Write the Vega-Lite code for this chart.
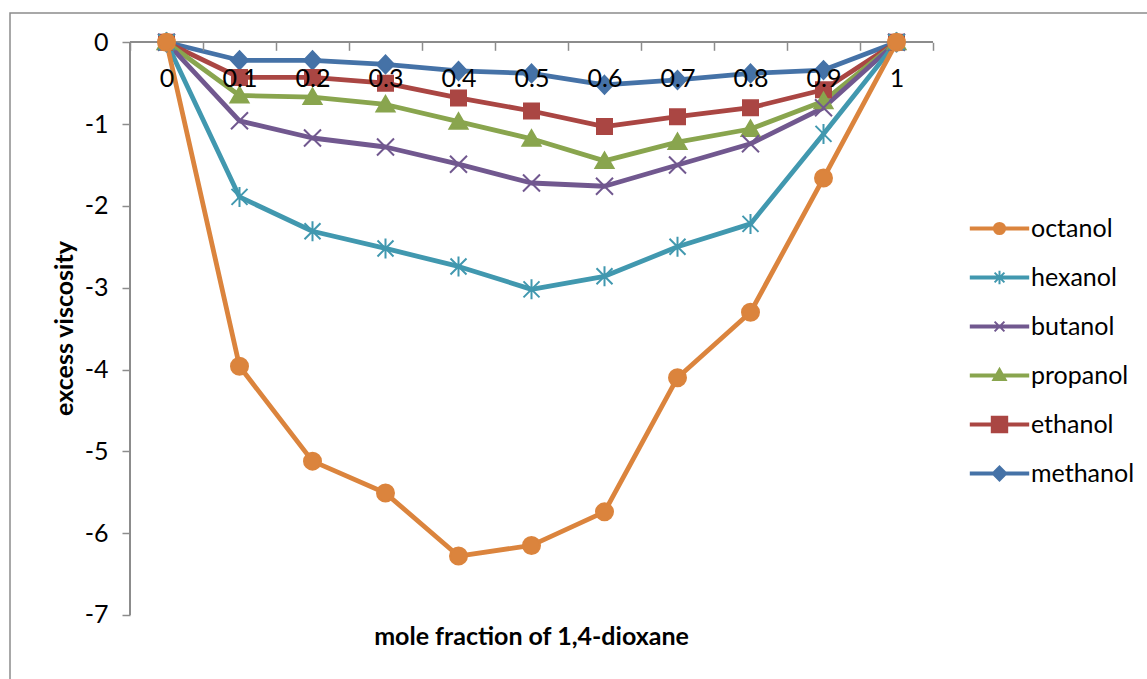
{
  "$schema": "https://vega.github.io/schema/vega-lite/v6.json",
  "width": 1150,
  "height": 680,
  "autosize": {"type": "none"},
  "padding": {"left": 10, "top": 13, "right": 0, "bottom": 0},
  "background": "white",
  "config": {"view": {"stroke": "#8c8c8c", "strokeWidth": 1.5}, "font": "Lato"},
  "data": {"values": [
    {"x": "0", "series": "methanol", "v": 0}, {"x": "0.1", "series": "methanol", "v": -0.22}, {"x": "0.2", "series": "methanol", "v": -0.22}, {"x": "0.3", "series": "methanol", "v": -0.27}, {"x": "0.4", "series": "methanol", "v": -0.35}, {"x": "0.5", "series": "methanol", "v": -0.38}, {"x": "0.6", "series": "methanol", "v": -0.52}, {"x": "0.7", "series": "methanol", "v": -0.46}, {"x": "0.8", "series": "methanol", "v": -0.38}, {"x": "0.9", "series": "methanol", "v": -0.34}, {"x": "1", "series": "methanol", "v": 0},
    {"x": "0", "series": "ethanol", "v": 0}, {"x": "0.1", "series": "ethanol", "v": -0.43}, {"x": "0.2", "series": "ethanol", "v": -0.43}, {"x": "0.3", "series": "ethanol", "v": -0.5}, {"x": "0.4", "series": "ethanol", "v": -0.68}, {"x": "0.5", "series": "ethanol", "v": -0.84}, {"x": "0.6", "series": "ethanol", "v": -1.03}, {"x": "0.7", "series": "ethanol", "v": -0.91}, {"x": "0.8", "series": "ethanol", "v": -0.8}, {"x": "0.9", "series": "ethanol", "v": -0.58}, {"x": "1", "series": "ethanol", "v": 0},
    {"x": "0", "series": "propanol", "v": 0}, {"x": "0.1", "series": "propanol", "v": -0.65}, {"x": "0.2", "series": "propanol", "v": -0.67}, {"x": "0.3", "series": "propanol", "v": -0.76}, {"x": "0.4", "series": "propanol", "v": -0.97}, {"x": "0.5", "series": "propanol", "v": -1.18}, {"x": "0.6", "series": "propanol", "v": -1.45}, {"x": "0.7", "series": "propanol", "v": -1.22}, {"x": "0.8", "series": "propanol", "v": -1.06}, {"x": "0.9", "series": "propanol", "v": -0.72}, {"x": "1", "series": "propanol", "v": 0},
    {"x": "0", "series": "butanol", "v": 0}, {"x": "0.1", "series": "butanol", "v": -0.96}, {"x": "0.2", "series": "butanol", "v": -1.17}, {"x": "0.3", "series": "butanol", "v": -1.28}, {"x": "0.4", "series": "butanol", "v": -1.49}, {"x": "0.5", "series": "butanol", "v": -1.72}, {"x": "0.6", "series": "butanol", "v": -1.76}, {"x": "0.7", "series": "butanol", "v": -1.5}, {"x": "0.8", "series": "butanol", "v": -1.24}, {"x": "0.9", "series": "butanol", "v": -0.8}, {"x": "1", "series": "butanol", "v": 0},
    {"x": "0", "series": "hexanol", "v": 0}, {"x": "0.1", "series": "hexanol", "v": -1.89}, {"x": "0.2", "series": "hexanol", "v": -2.31}, {"x": "0.3", "series": "hexanol", "v": -2.52}, {"x": "0.4", "series": "hexanol", "v": -2.74}, {"x": "0.5", "series": "hexanol", "v": -3.02}, {"x": "0.6", "series": "hexanol", "v": -2.86}, {"x": "0.7", "series": "hexanol", "v": -2.5}, {"x": "0.8", "series": "hexanol", "v": -2.22}, {"x": "0.9", "series": "hexanol", "v": -1.12}, {"x": "1", "series": "hexanol", "v": 0},
    {"x": "0", "series": "octanol", "v": 0}, {"x": "0.1", "series": "octanol", "v": -3.96}, {"x": "0.2", "series": "octanol", "v": -5.12}, {"x": "0.3", "series": "octanol", "v": -5.51}, {"x": "0.4", "series": "octanol", "v": -6.28}, {"x": "0.5", "series": "octanol", "v": -6.15}, {"x": "0.6", "series": "octanol", "v": -5.74}, {"x": "0.7", "series": "octanol", "v": -4.1}, {"x": "0.8", "series": "octanol", "v": -3.3}, {"x": "0.9", "series": "octanol", "v": -1.66}, {"x": "1", "series": "octanol", "v": 0}
  ]},
  "layer": [
    {
      "mark": {"type": "rule", "color": "#8c8c8c", "strokeWidth": 1.5},
      "encoding": {
        "x": {"datum": "0", "type": "ordinal", "bandPosition": 0},
        "y": {"datum": -7, "type": "quantitative"},
        "y2": {"datum": 0}
      }
    },
    {
      "mark": {"type": "rule", "color": "#8c8c8c", "strokeWidth": 1.5},
      "encoding": {
        "x": {"datum": "0", "type": "ordinal", "bandPosition": 0},
        "x2": {"datum": "1", "bandPosition": 1},
        "y": {"datum": 0, "type": "quantitative"}
      }
    },
    {
      "mark": {"type": "line", "strokeWidth": 4.8, "strokeJoin": "round", "strokeCap": "round"},
      "encoding": {
        "x": {
          "field": "x", "type": "ordinal",
          "scale": {"type": "band", "domain": ["0", "0.1", "0.2", "0.3", "0.4", "0.5", "0.6", "0.7", "0.8", "0.9", "1"], "paddingInner": 0, "paddingOuter": 0, "range": [120, 923]},
          "axis": {
            "orient": "bottom", "offset": -650.7, "domain": false, "grid": false, "zindex": 2,
            "tickBand": "extent", "tickSize": 8, "tickColor": "#8c8c8c", "tickWidth": 1.5,
            "labelAngle": 0, "labelFontSize": 25, "labelColor": "#000000", "labelPadding": 28,
            "labelOverlap": false, "labelFlush": false, "labelAlign": "center",
            "title": "mole fraction of 1,4-dioxane", "titleX": 521, "titleY": 594,
            "titleAlign": "center", "titleBaseline": "middle", "titleFontSize": 25,
            "titleFontWeight": "bold", "titleColor": "#000000"
          }
        },
        "y": {
          "field": "v", "type": "quantitative",
          "scale": {"domain": [-7.954, 0.358], "nice": false, "zero": false},
          "axis": {
            "values": [-7, -6, -5, -4, -3, -2, -1, 0], "domain": false, "grid": false,
            "offset": -120, "tickSize": 8, "tickColor": "#8c8c8c", "tickWidth": 1.5,
            "labelFontSize": 25, "labelColor": "#000000", "labelPadding": 14,
            "labelExpr": "'' + datum.value",
            "title": "excess viscosity", "titleX": -66, "titleY": 315, "titleAngle": 270,
            "titleAlign": "center", "titleBaseline": "middle", "titleFontSize": 25,
            "titleFontWeight": "bold", "titleColor": "#000000"
          }
        },
        "color": {
          "field": "series", "type": "nominal",
          "scale": {
            "domain": ["octanol", "hexanol", "butanol", "propanol", "ethanol", "methanol"],
            "range": ["#DB843D", "#4198AF", "#71588F", "#89A54E", "#AA4643", "#4572A7"]
          },
          "legend": {
            "orient": "none", "legendX": 977, "legendY": 203, "title": null,
            "labelFontSize": 25, "labelColor": "#000000", "symbolSize": 196,
            "symbolStrokeWidth": 2, "symbolOpacity": 1,
            "rowPadding": 23, "labelOffset": 19, "padding": 0
          }
        }
      }
    },
    {
      "transform": [{"filter": "datum.v > 100"}],
      "mark": {"type": "point", "filled": true, "opacity": 1, "size": 196, "strokeWidth": 2},
      "encoding": {
        "x": {"field": "x", "type": "ordinal"},
        "y": {"field": "v", "type": "quantitative"},
        "color": {"field": "series", "type": "nominal"},
        "shape": {
          "field": "series", "type": "nominal",
          "scale": {
            "domain": ["octanol", "hexanol", "butanol", "propanol", "ethanol", "methanol"],
            "range": [
              "M-4.1,-0.15H4.1V0.15H-4.1ZM0.8,0A0.8,0.8,0,1,1,-0.8,0A0.8,0.8,0,1,1,0.8,0Z",
              "M-4.1,-0.15H4.1V0.15H-4.1ZM-0.7,-0.7L0.7,0.7M-0.7,0.7L0.7,-0.7M0,-0.95L0,0.95",
              "M-4.1,-0.15H4.1V0.15H-4.1ZM-0.7,-0.7L0.7,0.7M-0.7,0.7L0.7,-0.7",
              "M-4.1,-0.15H4.1V0.15H-4.1ZM0,-0.95L0.9,0.65L-0.9,0.65Z",
              "M-4.1,-0.15H4.1V0.15H-4.1ZM-1.1,-1.1H1.1V1.1H-1.1Z",
              "M-4.1,-0.15H4.1V0.15H-4.1ZM0,-1L1,0L0,1L-1,0Z"
            ]
          },
          "legend": {
            "orient": "none", "legendX": 977, "legendY": 203, "title": null,
            "labelFontSize": 25, "labelColor": "#000000", "symbolSize": 196,
            "symbolStrokeWidth": 2, "symbolOpacity": 1,
            "rowPadding": 23, "labelOffset": 19, "padding": 0
          }
        }
      }
    },
    {
      "transform": [{"filter": {"field": "series", "equal": "methanol"}}],
      "mark": {"type": "point", "shape": "M0,-0.9L0.85,0L0,0.9L-0.85,0Z", "filled": true, "fill": "#4572A7", "stroke": "#4572A7", "size": 400, "strokeWidth": 2, "opacity": 1},
      "encoding": {"x": {"field": "x", "type": "ordinal"}, "y": {"field": "v", "type": "quantitative"}}
    },
    {
      "transform": [{"filter": {"field": "series", "equal": "ethanol"}}],
      "mark": {"type": "point", "shape": "M-0.75,-0.75H0.75V0.75H-0.75Z", "filled": true, "fill": "#AA4643", "stroke": "#AA4643", "size": 400, "strokeWidth": 2, "opacity": 1},
      "encoding": {"x": {"field": "x", "type": "ordinal"}, "y": {"field": "v", "type": "quantitative"}}
    },
    {
      "transform": [{"filter": {"field": "series", "equal": "propanol"}}],
      "mark": {"type": "point", "shape": "M0,-0.85L0.9,0.7L-0.9,0.7Z", "filled": true, "fill": "#89A54E", "stroke": "#89A54E", "size": 400, "strokeWidth": 2, "opacity": 1},
      "encoding": {"x": {"field": "x", "type": "ordinal"}, "y": {"field": "v", "type": "quantitative"}}
    },
    {
      "transform": [{"filter": {"field": "series", "equal": "butanol"}}],
      "mark": {"type": "point", "shape": "M-0.85,-0.85L0.85,0.85M-0.85,0.85L0.85,-0.85", "filled": true, "fill": "#71588F", "stroke": "#71588F", "size": 400, "strokeWidth": 2, "opacity": 1},
      "encoding": {"x": {"field": "x", "type": "ordinal"}, "y": {"field": "v", "type": "quantitative"}}
    },
    {
      "transform": [{"filter": {"field": "series", "equal": "hexanol"}}],
      "mark": {"type": "point", "shape": "M-0.8,-0.8L0.8,0.8M-0.8,0.8L0.8,-0.8M0,-1L0,1", "filled": true, "fill": "#4198AF", "stroke": "#4198AF", "size": 400, "strokeWidth": 2, "opacity": 1},
      "encoding": {"x": {"field": "x", "type": "ordinal"}, "y": {"field": "v", "type": "quantitative"}}
    },
    {
      "transform": [{"filter": {"field": "series", "equal": "octanol"}}],
      "mark": {"type": "point", "shape": "M0.85,0A0.85,0.85,0,1,1,-0.85,0A0.85,0.85,0,1,1,0.85,0Z", "filled": true, "fill": "#DB843D", "stroke": "#DB843D", "size": 400, "strokeWidth": 2, "opacity": 1},
      "encoding": {"x": {"field": "x", "type": "ordinal"}, "y": {"field": "v", "type": "quantitative"}}
    }
  ]
}
